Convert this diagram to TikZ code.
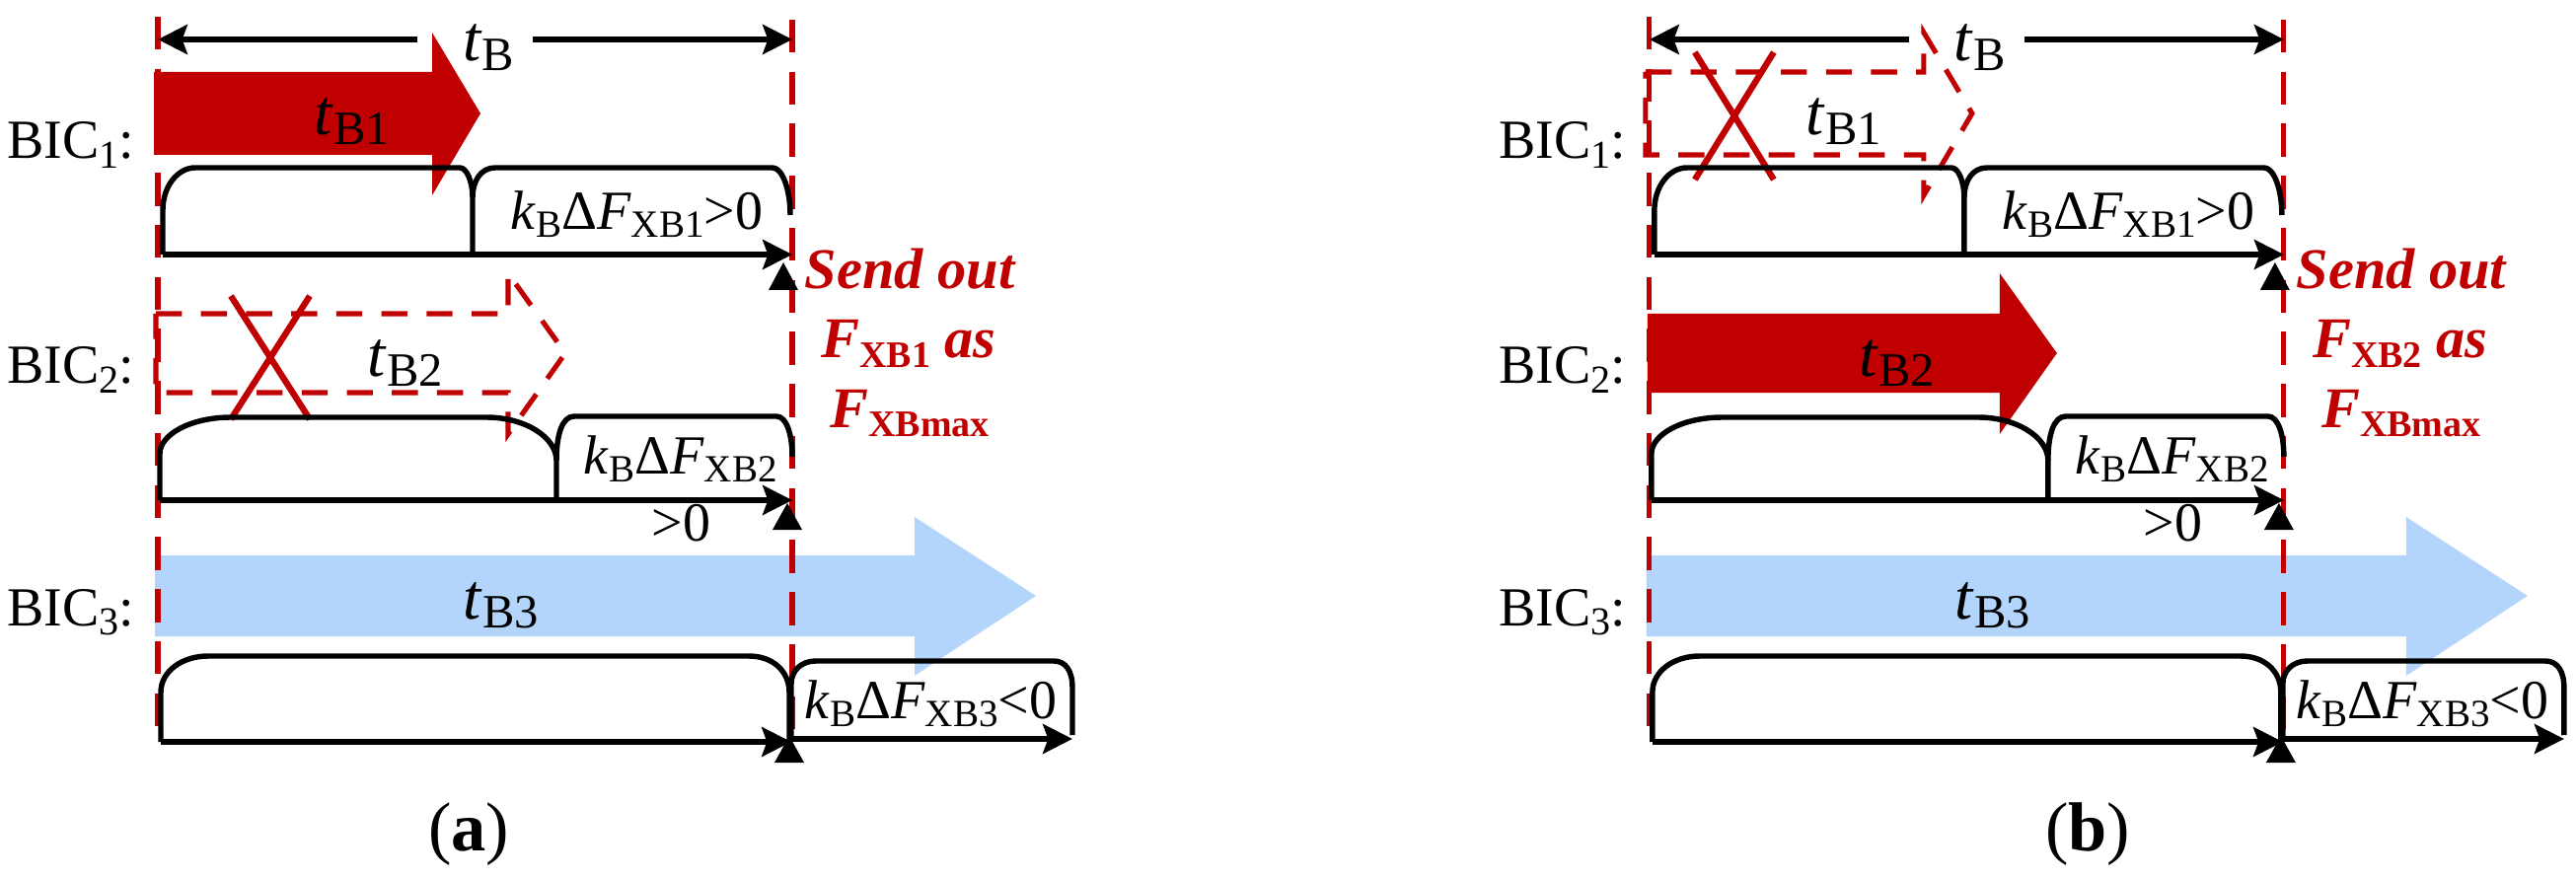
\documentclass[tikz,border=0pt]{standalone}
\usepackage{fontspec}
\setmainfont{Liberation Serif}
\usetikzlibrary{arrows.meta}
\definecolor{dred}{HTML}{C00000}
\definecolor{lblue}{HTML}{B4D5FB}
\newcommand\tlab[2]{{\fontsize{18.6pt}{20pt}\selectfont\textit{#1}}\raisebox{-2.6pt}{\fontsize{13.8pt}{14pt}\selectfont #2}}
\newcommand\biclab[1]{{\fontsize{15.9pt}{18pt}\selectfont BIC\raisebox{-2.6pt}{\fontsize{11.4pt}{12pt}\selectfont #1}:}}
\newcommand\klab[2]{{\fontsize{15.9pt}{18pt}\selectfont\textit{k}\raisebox{-2.3pt}{\fontsize{11.1pt}{12pt}\selectfont B}Δ\textit{F}\raisebox{-2.3pt}{\fontsize{11.1pt}{12pt}\selectfont XB#1}#2}}
\newcommand\arrowone{(156,73) -- (438,73) -- (438,33) -- (487,115) -- (438,198) -- (438,157) -- (156,157) -- cycle}
\newcommand\arrowtwo{(158,318) -- (515,318) -- (515,277) -- (573,358) -- (515,440) -- (515,398) -- (158,398) -- cycle}
\newcommand\panelcommon[1]{%
  % blue arrow
  \fill[lblue] (157,563) -- (927,563) -- (927,524) -- (1050,604) -- (927,685) -- (927,645) -- (157,645) -- cycle;
  % red dashed verticals
  \draw[reddash] (160,17) -- (160,745);
  \draw[reddash] (803,20) -- (803,760);
  % t_B dimension arrow
  \node[ctr] (tb) at (495,62) {\tlab{t}{B}};
  \coordinate (dl0) at (423,40);
  \coordinate (dl1) at (160,40);
  \coordinate (dr0) at (540,40);
  \coordinate (dr1) at (803,40);
  \draw[blk,tip] (dl0) -- (dl1);
  \draw[blk,tip] (dr0) -- (dr1);
  % arrow labels
  \node[ctr] (tb1) at (357,137) {\tlab{t}{B1}};
  \node[ctr] (tb2) at (411,382) {\tlab{t}{B2}};
  \node[ctr] (tb3) at (508,627) {\tlab{t}{B3}};
  % BIC1 timeline
  \draw[blk] (165,258) -- (165,213) .. controls (165,189) and (180,170) .. (198,170) -- (466,170) .. controls (473,170) and (479,184) .. (479,200) -- (479,258);
  \draw[blk] (479,200) .. controls (479,184) and (487,170) .. (502,170) -- (783,170) .. controls (793,170) and (801,192) .. (801,218);
  \coordinate (b1s) at (165,258);
  \coordinate (b1e) at (803,258);
  \draw[blk,tip] (b1s) -- (b1e);
  % BIC2 timeline
  \draw[blk] (162,507) -- (162,460) .. controls (162,440) and (194,423) .. (234,423) -- (493,423) .. controls (532,423) and (564,443) .. (564,467) -- (564,507);
  \draw[blk] (564,467) .. controls (564,440) and (570,422) .. (582,422) -- (787,422) .. controls (797,422) and (803,440) .. (803,463);
  \coordinate (b2s) at (162,507);
  \coordinate (b2e) at (803,507);
  \draw[blk,tip] (b2s) -- (b2e);
  % BIC3 timeline
  \draw[blk] (163,752) -- (163,702) .. controls (163,680) and (185,665) .. (211,665) -- (759,665) .. controls (783,665) and (800,680) .. (800,702) -- (800,752);
  \draw[blk] (802,749) -- (802,693) .. controls (802,680) and (812,670) .. (827,670) -- (1068,670) .. controls (1080,670) and (1087,680) .. (1087,697) -- (1087,745);
  \coordinate (b3s) at (163,752);
  \coordinate (b3m) at (802,752);
  \coordinate (b3n) at (802,749);
  \coordinate (b3e) at (1087,749);
  \draw[blk,tip] (b3s) -- (b3m);
  \draw[blk,tip] (b3n) -- (b3e);
  % triangles
  \fill (794,266) -- (809,294) -- (779,294) -- cycle;
  \fill (798,510) -- (813,537) -- (783,537) -- cycle;
  \fill (800,746) -- (815,773) -- (785,773) -- cycle;
  % labels
  \node[lbl] (bic1) at (7,161) {\biclab{1}};
  \node[lbl] (bic2) at (7,389) {\biclab{2}};
  \node[lbl] (bic3) at (7,634) {\biclab{3}};
  \node[lbl] (k1) at (517,232) {\klab{1}{>0}};
  \node[lbl] (k2) at (591,480) {\klab{2}{}};
  \node[lbl] (g2) at (660,548) {\fontsize{15.9pt}{18pt}\selectfont >0};
  \node[lbl] (k3) at (815,728) {\klab{3}{<0}};
  \node[sendtxt] (s1) at (922,293) {Send out};
  \node[sendtxt] (s2) at (921,363) {F\raisebox{-2.6pt}{\fontsize{10.8pt}{12pt}\selectfont\upshape XB#1} as};
  \node[sendtxt] (s3) at (922,433) {F\raisebox{-2.6pt}{\fontsize{10.8pt}{12pt}\selectfont\upshape XBmax}};
}
\begin{document}
\begin{tikzpicture}[x=0.01cm,y=-0.01cm,
  blk/.style={line width=1.55pt,line join=round},
  tip/.style={-{Stealth[length=8.5pt,width=8.5pt,inset=1.5pt]}},
  reddash/.style={draw=dred,line width=1.45pt,dash pattern=on 9.5pt off 5.5pt},
  outl/.style={draw=dred,line width=1.45pt,dash pattern=on 7.5pt off 5.5pt,line join=miter},
  cross/.style={draw=dred,line width=1.8pt},
  lbl/.style={inner sep=0pt,anchor=base west},
  ctr/.style={inner sep=0pt,anchor=base},
  sendtxt/.style={inner sep=0pt,anchor=base,text=dred,font=\fontsize{16.6pt}{18pt}\selectfont\bfseries\itshape}]
\useasboundingbox (0,0) rectangle (2611,891);
\begin{scope}[name prefix=a-]
  \fill[dred] \arrowone;
  \draw[outl] \arrowtwo;
  \draw[cross] (234,300) -- (314,425) (314,300) -- (234,425);
  \panelcommon{1}
\end{scope}
\begin{scope}[xshift=15.11cm,name prefix=b-]
  \draw[outl] \arrowone;
  \fill[dred] \arrowtwo;
  \draw[cross] (206,53) -- (286,182) (286,53) -- (206,182);
  \panelcommon{2}
\end{scope}
\node[ctr] (capa) at (475,862) {\fontsize{20pt}{22pt}\selectfont (\textbf{a})};
\node[ctr] (capb) at (2116,862) {\fontsize{20pt}{22pt}\selectfont (\textbf{b})};
\end{tikzpicture}
\end{document}
